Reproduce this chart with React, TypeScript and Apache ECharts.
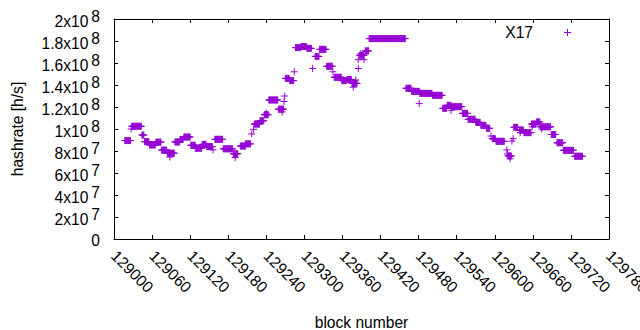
import React, { useEffect, useRef } from "react";
import * as echarts from "echarts";

// Runs of consecutive blocks sharing the same hashrate
const runStart = [
  129017, 129028, 129044, 129048, 129056, 129066, 129075, 129084, 129096, 129104,
  129110, 129121, 129128, 129139, 129146, 129159, 129172, 129188, 129199, 129207,
  129221, 129230, 129237, 129244, 129259, 129270, 129277, 129286, 129295, 129304,
  129317, 129324, 129335, 129347, 129359, 129367, 129375, 129387, 129396, 129402,
  129460, 129469, 129482, 129502, 129518, 129525, 129532, 129549, 129558, 129570,
  129578, 129587, 129596, 129602, 129621, 129630, 129639, 129646, 129658, 129666,
  129672, 129689, 129699, 129708, 129726,
];
const runEnd = [
  129026, 129043, 129047, 129055, 129065, 129074, 129083, 129095, 129103, 129109,
  129120, 129128, 129138, 129145, 129155, 129171, 129187, 129195, 129207, 129215,
  129229, 129236, 129243, 129258, 129267, 129276, 129283, 129294, 129303, 129311,
  129323, 129334, 129344, 129358, 129366, 129374, 129383, 129394, 129401, 129459,
  129468, 129481, 129501, 129517, 129524, 129531, 129548, 129557, 129569, 129577,
  129586, 129592, 129601, 129615, 129626, 129636, 129645, 129657, 129665, 129671,
  129688, 129696, 129707, 129724, 129738,
];
const runValue = [
  8.95e7, 10.25e7, 9.45e7, 8.85e7, 8.55e7, 8.8e7, 8.08e7, 7.8e7, 8.82e7, 9.05e7,
  9.27e7, 8.52e7, 8.25e7, 8.6e7, 8.4e7, 9.06e7, 8.2e7, 7.75e7, 8.45e7, 8.65e7,
  10.45e7, 10.75e7, 11.3e7, 12.64e7, 11.8e7, 14.6e7, 14.4e7, 17.4e7, 17.5e7, 17.33e7,
  16.6e7, 17.24e7, 15.7e7, 14.7e7, 14.4e7, 14.5e7, 14.15e7, 16.7e7, 17.1e7, 18.22e7,
  13.7e7, 13.42e7, 13.24e7, 13.06e7, 11.88e7, 12.15e7, 12.03e7, 11.42e7, 10.88e7, 10.6e7,
  10.33e7, 10.06e7, 9.12e7, 8.88e7, 7.55e7, 10.15e7, 9.9e7, 9.67e7, 10.45e7, 10.64e7,
  10.2e7, 9.5e7, 8.75e7, 8.06e7, 7.52e7,
];

// Isolated points
const singleBlock = [
  129027, 129088, 129156, 129191, 129217, 129220, 129240, 129265, 129268, 129269,
  129284, 129313, 129345, 129377, 129381, 129385, 129385, 129389, 129394, 129481,
  129531, 129594, 129619, 129620, 129624, 129627, 129629, 129640, 129659, 129674,
  129698,
];
const singleValue = [
  10.0e7, 7.45e7, 8.1e7, 7.4e7, 9.55e7, 9.97e7, 11.45e7, 11.55e7, 12.5e7, 13.0e7,
  15.2e7, 15.5e7, 15.2e7, 13.8e7, 14.45e7, 15.5e7, 16.3e7, 16.85e7, 16.3e7, 12.33e7,
  11.7e7, 9.36e7, 8.1e7, 7.73e7, 7.3e7, 8.9e7, 9.12e7, 9.67e7, 10.2e7, 10.0e7,
  8.75e7,
];

const seriesName = "X17";
const xMin = 129000;
const xMax = 129780;
const xStep = 60;
const yMin = 0;
const yMax = 2e8;
const yStep = 2e7;

const FONT = "'Liberation Sans', Arial, sans-serif";
const FS = 15.6;
const PURPLE = "#9400d3";
const PLUS = "path://M0,-1L0,1M-1,0L1,0";

function buildPoints(): number[][] {
  const pts: number[][] = [];
  for (let i = 0; i < runStart.length; i++) {
    for (let b = runStart[i]; b <= runEnd[i]; b++) pts.push([b, runValue[i]]);
  }
  for (let i = 0; i < singleBlock.length; i++) pts.push([singleBlock[i], singleValue[i]]);
  return pts;
}

export default function App() {
  const ref = useRef<HTMLDivElement>(null);
  useEffect(() => {
    document.body.style.margin = "0";
    if (!ref.current) return;
    const chart = echarts.init(ref.current, undefined, { renderer: "svg" });
    const axisLine = { show: true, onZero: false, lineStyle: { color: "#000", width: 1 } };
    const axisTick = { show: true, inside: true, length: 4, lineStyle: { color: "#000", width: 1 } };
    chart.setOption({
      animation: false,
      backgroundColor: "#fff",
      grid: { left: 114, right: 31, top: 19, bottom: 91, containLabel: false, outerBoundsMode: "none" },
      graphic: [
        {
          type: "text",
          right: 640 - 533,
          top: 24,
          style: { text: seriesName, fontSize: FS, fontFamily: FONT, fill: "#000" },
        },
        {
          type: "group",
          x: 567.5,
          y: 32.5,
          children: [
            { type: "line", shape: { x1: -3.5, y1: 0, x2: 3.5, y2: 0 }, style: { stroke: PURPLE, lineWidth: 1 } },
            { type: "line", shape: { x1: 0, y1: -3.5, x2: 0, y2: 3.5 }, style: { stroke: PURPLE, lineWidth: 1 } },
          ],
        },
      ],
      xAxis: [
        {
          type: "value",
          position: "bottom",
          min: xMin,
          max: xMax,
          interval: xStep,
          axisLine,
          axisTick,
          splitLine: { show: false },
          axisLabel: {
            rotate: -45,
            margin: 14,
            showMinLabel: true,
            showMaxLabel: true,
            hideOverlap: false,
            color: "#000",
            fontSize: FS,
            fontFamily: FONT,
            formatter: (v: number) => String(v),
          },
          name: "block number",
          nameLocation: "middle",
          nameGap: 75,
          nameTextStyle: { fontSize: FS, fontFamily: FONT, color: "#000" },
        },
        {
          type: "value",
          position: "top",
          min: xMin,
          max: xMax,
          interval: xStep,
          axisLine,
          axisTick,
          splitLine: { show: false },
          axisLabel: { show: false },
        },
      ],
      yAxis: [
        {
          type: "value",
          position: "left",
          min: yMin,
          max: yMax,
          interval: yStep,
          axisLine,
          axisTick,
          splitLine: { show: false },
          axisLabel: {
            margin: 14,
            showMinLabel: true,
            showMaxLabel: true,
            hideOverlap: false,
            color: "#000",
            fontSize: FS,
            fontFamily: FONT,
            formatter: (v: number) => {
              if (v === 0) return "{z|0}";
              const e = Math.floor(Math.log10(v) + 1e-9);
              const m = +(v / Math.pow(10, e)).toFixed(1);
              return `{m|${m}x10}{e|${e}}`;
            },
            rich: {
              z: { fontSize: FS, fontFamily: FONT, color: "#000", lineHeight: 14, padding: [2, 0, 0, 0] },
              m: { fontSize: FS, fontFamily: FONT, color: "#000", lineHeight: 14, padding: [5, 0, 0, 0] },
              e: { fontSize: FS, fontFamily: FONT, color: "#000", lineHeight: 14, padding: [0, 0, 5, 3] },
            },
          },
          name: "hashrate [h/s]",
          nameLocation: "middle",
          nameGap: 89,
          nameRotate: 90,
          nameTextStyle: { fontSize: FS, fontFamily: FONT, color: "#000" },
        },
        {
          type: "value",
          position: "right",
          min: yMin,
          max: yMax,
          interval: yStep,
          axisLine,
          axisTick,
          splitLine: { show: false },
          axisLabel: { show: false },
        },
      ],
      series: [
        {
          name: seriesName,
          type: "scatter",
          xAxisIndex: 0,
          yAxisIndex: 0,
          symbol: PLUS,
          symbolSize: 7,
          itemStyle: { color: "transparent", borderColor: PURPLE, borderWidth: 1, opacity: 1 },
          emphasis: { disabled: true },
          data: buildPoints(),
        },
      ],
    });
    return () => chart.dispose();
  }, []);
  return <div ref={ref} style={{ width: 640, height: 330 }} />;
}
